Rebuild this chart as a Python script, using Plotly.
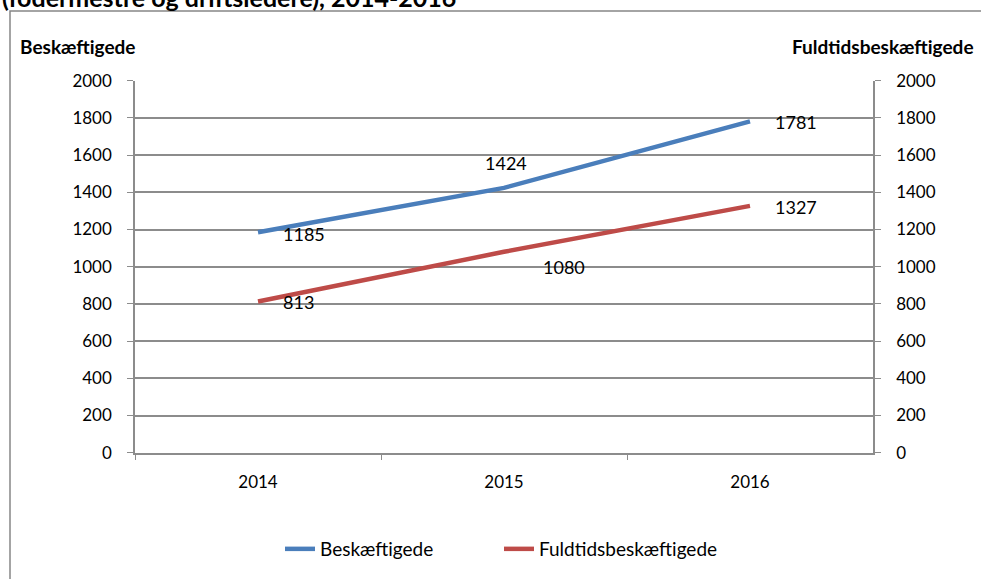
import plotly.graph_objects as go

# data
years = ["2014", "2015", "2016"]
beskaeftigede = [1185, 1424, 1781]
fuldtid = [813, 1080, 1327]

W, H = 981, 579
FONT = "Lato, Liberation Sans, sans-serif"
GRID = "#8c8c8c"


def px(x):
    return x / W


def py(y):
    return 1 - y / H


fig = go.Figure()

fig.add_trace(go.Scatter(
    x=years, y=beskaeftigede, name="Beskæftigede", mode="lines",
    line=dict(color="#4A7EBB", width=4.5), yaxis="y",
))
fig.add_trace(go.Scatter(
    x=years, y=fuldtid, name="Fuldtidsbeskæftigede", mode="lines",
    line=dict(color="#BE4B48", width=4.5), yaxis="y2",
))

# data labels (manual offsets like in the original)
lbl_offsets_b = [(23, -2, "left"), (2, 25, "center"), (23, -1, "left")]
lbl_offsets_f = [(23, -1, "left"), (37, -15, "left"), (23, -1, "left")]
annots = []
for i, (v, (dx, dy, xa)) in enumerate(zip(beskaeftigede, lbl_offsets_b)):
    annots.append(dict(x=i, y=v, xref="x", yref="y", text=str(v), showarrow=False,
                       xanchor=xa, yanchor="middle", xshift=dx, yshift=dy,
                       font=dict(size=18, color="black", family=FONT)))
for i, (v, (dx, dy, xa)) in enumerate(zip(fuldtid, lbl_offsets_f)):
    annots.append(dict(x=i, y=v, xref="x", yref="y2", text=str(v), showarrow=False,
                       xanchor=xa, yanchor="middle", xshift=dx, yshift=dy,
                       font=dict(size=18, color="black", family=FONT)))

# titles
annots.append(dict(x=0, y=py(14), xref="paper", yref="paper", xanchor="left", yanchor="bottom",
                   text="<b>(fodermestre og driftsledere), 2014-2016</b>", showarrow=False,
                   font=dict(size=25, color="black", family=FONT)))
annots.append(dict(x=px(18), y=py(47), xref="paper", yref="paper", xanchor="left", yanchor="middle",
                   text="<b>Beskæftigede</b>", showarrow=False,
                   font=dict(size=19, color="black", family=FONT)))
annots.append(dict(x=px(976), y=py(47), xref="paper", yref="paper", xanchor="right", yanchor="middle",
                   text="<b>Fuldtidsbeskæftigede</b>", showarrow=False,
                   font=dict(size=19, color="black", family=FONT)))

axis_common = dict(showline=True, linecolor=GRID, linewidth=1.5, tickcolor=GRID,
                   ticks="outside", ticklen=6, zeroline=False, automargin=False,
                   tickfont=dict(size=17))

fig.update_layout(
    width=W, height=H,
    margin=dict(l=0, r=0, t=0, b=0, pad=0),
    paper_bgcolor="white", plot_bgcolor="white",
    font=dict(family=FONT, size=17, color="black"),
    showlegend=True,
    legend=dict(orientation="h", x=px(280), y=py(549), xanchor="left", yanchor="middle",
                entrywidth=174, font=dict(size=19), bgcolor="rgba(0,0,0,0)"),
    annotations=annots,
    shapes=[dict(type="rect", xref="paper", yref="paper", x0=px(10), y0=-0.1, x1=1.1, y1=py(11),
                 line=dict(color="#868686", width=1.5))],
    xaxis=dict(
        domain=[px(135), px(873)], type="category", range=[-0.5, 2.5],
        tickson="boundaries", showgrid=False, ticklabelstandoff=13, **axis_common,
    ),
    yaxis=dict(
        domain=[py(452.7), py(80.7)], range=[0, 2000], dtick=200,
        showgrid=True, gridcolor=GRID, gridwidth=1.5, ticklabelstandoff=12, **axis_common,
    ),
    yaxis2=dict(
        overlaying="y", side="right", range=[0, 2000], dtick=200,
        showgrid=False, ticklabelstandoff=12, **axis_common,
    ),
)

fig.write_html("out.html", config={"displayModeBar": False},
               post_script="document.body.style.margin='0px';")
